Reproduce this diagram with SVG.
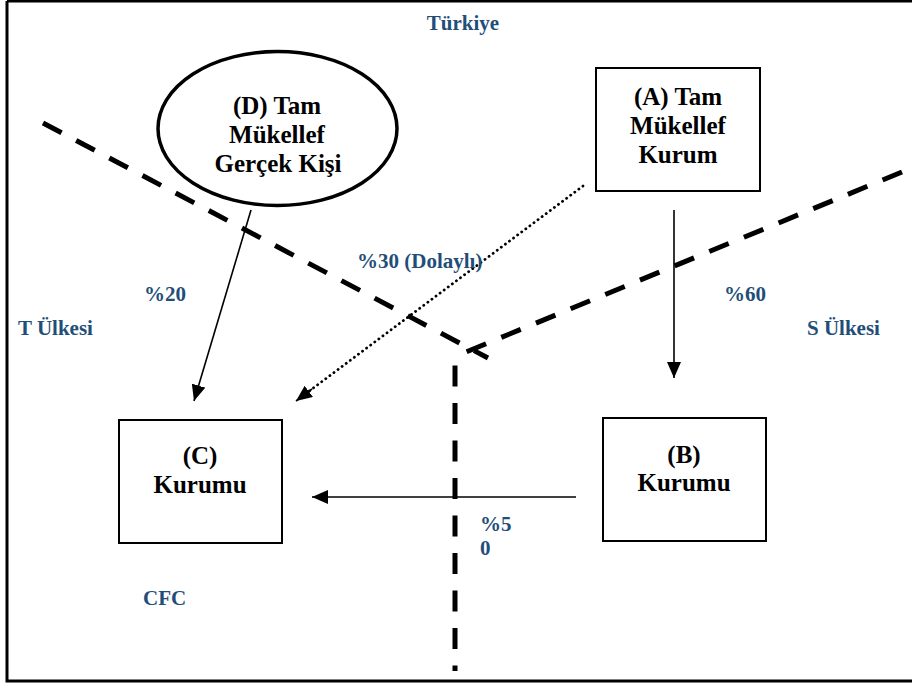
<svg xmlns="http://www.w3.org/2000/svg" width="912" height="683" viewBox="0 0 912 683">
<style>
text{font-family:'Liberation Serif','Times New Roman',serif;font-weight:bold}
.node{font-size:25px;fill:#000;text-anchor:middle}
.lbl{font-size:21px;fill:#1F4E79}
.shape{fill:#fff;stroke:#000;stroke-width:2}
.ell{stroke-width:3.5}
.border{stroke:#000;fill:none;stroke-dasharray:21 16.5;stroke-width:5}
.conn{stroke:#000;stroke-width:1.6;fill:none}
.dot{stroke-dasharray:0.1 5;stroke-linecap:round;stroke-width:2.8}
</style>
<defs>
<marker id="ahb" viewBox="0 0 10 10" refX="10" refY="5" markerWidth="16" markerHeight="14" markerUnits="userSpaceOnUse" orient="auto" preserveAspectRatio="none">
<path d="M0,0 L10,5 L0,10 z" fill="#000"/>
</marker>
</defs>
<rect x="0" y="0" width="912" height="683" fill="#fff"/>
<path d="M7,1 H914 M7,1 V681 H914" stroke="#000" stroke-width="3" fill="none"/>
<g id="borders">
<line class="border" x1="43" y1="123" x2="488" y2="358"/>
<line class="border" x1="902" y1="172" x2="466" y2="352"/>
<line class="border" x1="455" y1="365.5" x2="455" y2="671"/>
</g>
<g id="connectors">
<line class="conn" x1="251" y1="210" x2="194" y2="401" marker-end="url(#ahb)"/>
<line class="conn dot" x1="583" y1="186" x2="304" y2="395"/>
<line class="conn" x1="312" y1="389" x2="296" y2="401" marker-end="url(#ahb)"/>
<line class="conn" x1="674" y1="210" x2="674" y2="378" marker-end="url(#ahb)"/>
<line class="conn" x1="576" y1="497" x2="312" y2="497" marker-end="url(#ahb)"/>
</g>
<g id="nodeD">
<ellipse class="shape ell" cx="277.5" cy="128.5" rx="119.5" ry="77"/>
<text class="node" x="277" y="114">(D) Tam</text>
<text class="node" x="277" y="143">Mükellef</text>
<text class="node" x="278" y="172">Gerçek Kişi</text>
</g>
<g id="nodeA">
<rect class="shape" x="596" y="68" width="164" height="123"/>
<text class="node" x="678" y="105">(A) Tam</text>
<text class="node" x="678" y="134">Mükellef</text>
<text class="node" x="678" y="163">Kurum</text>
</g>
<g id="nodeC">
<rect class="shape" x="119" y="420" width="163" height="123"/>
<text class="node" x="200" y="464">(C)</text>
<text class="node" x="200" y="493">Kurumu</text>
</g>
<g id="nodeB">
<rect class="shape" x="603" y="418" width="163" height="123"/>
<text class="node" x="684" y="463">(B)</text>
<text class="node" x="684" y="491">Kurumu</text>
</g>
<g id="labels">
<text class="lbl" x="463" y="30" text-anchor="middle">Türkiye</text>
<text class="lbl" x="357" y="268">%30 (Dolaylı)</text>
<text class="lbl" x="144" y="301">%20</text>
<text class="lbl" x="18" y="335">T Ülkesi</text>
<text class="lbl" x="724" y="301">%60</text>
<text class="lbl" x="807" y="335">S Ülkesi</text>
<text class="lbl" x="480" y="531">%5</text>
<text class="lbl" x="480" y="555">0</text>
<text class="lbl" x="143" y="605">CFC</text>
</g>
</svg>
